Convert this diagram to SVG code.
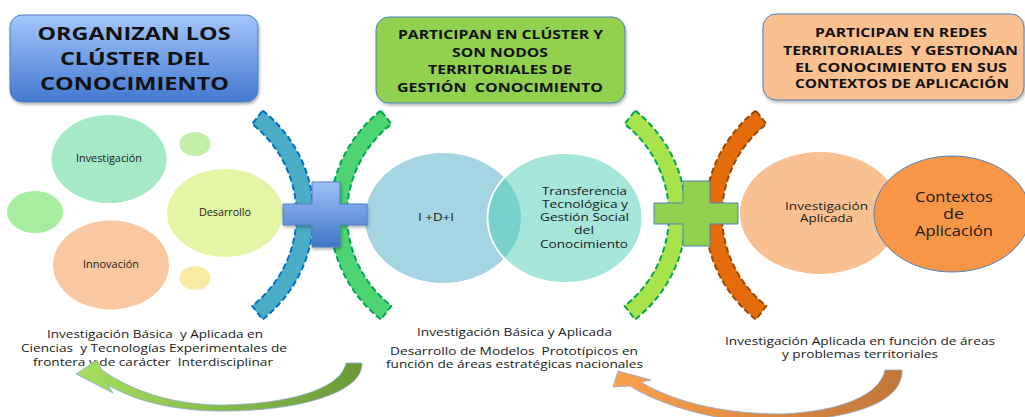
<svg xmlns="http://www.w3.org/2000/svg" width="1025" height="417" viewBox="0 0 1025 417">
<defs>
<style>
text{font-family:"Open Sans","Liberation Sans",sans-serif;fill:#1a1a1a;text-anchor:middle;white-space:pre}
.hb{font-weight:bold;fill:#111}
.b1{font-size:18px}
.b2{font-size:12px}
.b3{font-size:12.5px}
.s10{font-size:10px}
.s11{font-size:11px}
.s12{font-size:11px}
.s14{font-size:14px}
.box{stroke:#4f81bd;stroke-width:1;filter:url(#sh)}
.arcb{stroke-width:2;stroke-dasharray:6 3;stroke-linejoin:round}
</style>
<filter id="sh" x="-10%" y="-10%" width="120%" height="130%">
<feDropShadow dx="1" dy="2" stdDeviation="1.5" flood-color="#000" flood-opacity="0.3"/>
</filter>
<linearGradient id="gBlueBox" x1="0" y1="0" x2="0" y2="1">
<stop offset="0" stop-color="#a3c6fc"/>
<stop offset="1" stop-color="#4479cf"/>
</linearGradient>
<linearGradient id="gCross" x1="0" y1="0" x2="0" y2="1">
<stop offset="0" stop-color="#9fc1f8"/>
<stop offset="1" stop-color="#3e76c6"/>
</linearGradient>
<linearGradient id="gGreenArrow" x1="0" y1="0" x2="1" y2="0">
<stop offset="0" stop-color="#a6df5e"/>
<stop offset="1" stop-color="#6a9a36"/>
</linearGradient>
<linearGradient id="gOrangeArrow" x1="0" y1="0" x2="1" y2="0">
<stop offset="0" stop-color="#fba04c"/>
<stop offset="1" stop-color="#c0763a"/>
</linearGradient>
<clipPath id="clipIDI">
<ellipse cx="443" cy="218" rx="78" ry="65"/>
</clipPath>
</defs>
<rect width="1025" height="417" fill="#ffffff"/>

<g id="box-organizan">
<rect class="box" x="10" y="15" width="248" height="87" rx="12" fill="url(#gBlueBox)"/>
<text class="hb b1" x="134" y="40" textLength="193" lengthAdjust="spacingAndGlyphs">ORGANIZAN LOS</text>
<text class="hb b1" x="135" y="65" textLength="150" lengthAdjust="spacingAndGlyphs">CLÚSTER DEL</text>
<text class="hb b1" x="134.5" y="90" textLength="189" lengthAdjust="spacingAndGlyphs">CONOCIMIENTO</text>
</g>

<g id="box-participan-cluster">
<rect class="box" x="376" y="17" width="249" height="86" rx="13" fill="#92d050"/>
<text class="hb b2" x="500.5" y="39" textLength="205" lengthAdjust="spacingAndGlyphs">PARTICIPAN EN CLÚSTER Y</text>
<text class="hb b2" x="500" y="57" textLength="96" lengthAdjust="spacingAndGlyphs">SON NODOS</text>
<text class="hb b2" x="500" y="74" textLength="144" lengthAdjust="spacingAndGlyphs">TERRITORIALES DE</text>
<text class="hb b2" x="500" y="92" textLength="206" lengthAdjust="spacingAndGlyphs">GESTIÓN  CONOCIMIENTO</text>
</g>

<g id="box-participan-redes">
<rect class="box" x="763" y="14" width="261" height="86" rx="13" fill="#fac090"/>
<text class="hb b3" x="901" y="37" textLength="172" lengthAdjust="spacingAndGlyphs">PARTICIPAN EN REDES</text>
<text class="hb b3" x="900.5" y="55" textLength="235" lengthAdjust="spacingAndGlyphs">TERRITORIALES  Y GESTIONAN</text>
<text class="hb b3" x="901" y="72" textLength="212" lengthAdjust="spacingAndGlyphs">EL CONOCIMIENTO EN SUS</text>
<text class="hb b3" x="902" y="88" textLength="214" lengthAdjust="spacingAndGlyphs">CONTEXTOS DE APLICACIÓN</text>
</g>

<g id="bubble-small-top"><ellipse cx="195" cy="144" rx="15.5" ry="12" fill="#c3f0a8"/></g>
<g id="bubble-small-left"><ellipse cx="35" cy="212" rx="28" ry="21" fill="#a5ee9e"/></g>
<g id="bubble-small-bottom"><ellipse cx="195" cy="278" rx="15.5" ry="12" fill="#f8eaa3"/></g>

<g id="node-investigacion">
<ellipse cx="109" cy="159" rx="57.5" ry="44" fill="#a6e9c6"/>
<text class="s10" x="109" y="162" textLength="66" lengthAdjust="spacingAndGlyphs">Investigación</text>
</g>
<g id="node-desarrollo">
<ellipse cx="225" cy="213" rx="58" ry="44" fill="#e4f6a5"/>
<text class="s10" x="225" y="216" textLength="52" lengthAdjust="spacingAndGlyphs">Desarrollo</text>
</g>
<g id="node-innovacion">
<ellipse cx="111" cy="265" rx="58" ry="44.5" fill="#f9c8a0"/>
<text class="s10" x="111" y="268" textLength="56" lengthAdjust="spacingAndGlyphs">Innovación</text>
</g>

<g id="node-idi">
<ellipse cx="443" cy="218" rx="78" ry="65" fill="#a5d5e2"/>
<text class="s11" x="436" y="221" textLength="36" lengthAdjust="spacingAndGlyphs">I +D+I</text>
</g>
<g id="node-transferencia">
<ellipse cx="565" cy="218" rx="77.5" ry="65" fill="#a5e5da" stroke="#ffffff" stroke-width="2"/>
<ellipse cx="565" cy="218" rx="76.5" ry="64" fill="#78d1ca" clip-path="url(#clipIDI)"/>
<text class="s11" x="584.5" y="195" textLength="85" lengthAdjust="spacingAndGlyphs">Transferencia</text>
<text class="s11" x="585" y="208" textLength="86" lengthAdjust="spacingAndGlyphs">Tecnológica y</text>
<text class="s11" x="584.5" y="221" textLength="89" lengthAdjust="spacingAndGlyphs">Gestión Social</text>
<text class="s11" x="584" y="234" textLength="20" lengthAdjust="spacingAndGlyphs">del</text>
<text class="s11" x="584" y="248" textLength="88" lengthAdjust="spacingAndGlyphs">Conocimiento</text>
</g>

<g id="node-investigacion-aplicada">
<ellipse cx="820" cy="213" rx="80" ry="61" fill="#f9c092"/>
<text class="s10" x="826.5" y="210" textLength="83" lengthAdjust="spacingAndGlyphs">Investigación</text>
<text class="s10" x="826.5" y="222" textLength="53" lengthAdjust="spacingAndGlyphs">Aplicada</text>
</g>
<g id="node-contextos">
<ellipse cx="952" cy="214" rx="78" ry="58" fill="#f79646" stroke="#4f81bd" stroke-width="1"/>
<text class="s14" x="954" y="202" textLength="78" lengthAdjust="spacingAndGlyphs">Contextos</text>
<text class="s14" x="953.5" y="219" textLength="21" lengthAdjust="spacingAndGlyphs">de</text>
<text class="s14" x="954" y="236" textLength="78" lengthAdjust="spacingAndGlyphs">Aplicación</text>
</g>

<g id="arc-blue">
<path class="arcb" d="M 262.6 110.6 A 132.5 132.5 0 0 1 262.6 319.4 L 252.1 306 A 115.5 115.5 0 0 0 252.1 124 Z" fill="#4bacc6" stroke="#0070c0"/>
</g>
<g id="arc-green">
<path class="arcb" d="M 380.9 110.6 A 132.5 132.5 0 0 0 380.9 319.4 L 391.4 306 A 115.5 115.5 0 0 1 391.4 124 Z" fill="#4ed472" stroke="#00a651"/>
</g>
<g id="arc-lime">
<path class="arcb" d="M 635.1 110.6 A 132.5 132.5 0 0 1 635.1 319.4 L 624.6 306 A 115.5 115.5 0 0 0 624.6 124 Z" fill="#a9e34b" stroke="#00a651"/>
</g>
<g id="arc-orange">
<path class="arcb" d="M 755.9 110.6 A 132.5 132.5 0 0 0 755.9 319.4 L 766.4 306 A 115.5 115.5 0 0 1 766.4 124 Z" fill="#e46c0a" stroke="#984807"/>
</g>

<g id="cross-blue">
<path d="M 312 182 H 340 V 204 H 367 V 225 H 340 V 247 H 312 V 225 H 283 V 204 H 312 Z" fill="url(#gCross)" stroke="#4f7fc0" stroke-width="1" filter="url(#sh)"/>
</g>
<g id="cross-green">
<path d="M 683 181 H 710 V 203 H 738 V 224 H 710 V 246 H 683 V 224 H 654 V 203 H 683 Z" fill="#92d050" stroke="#4f81bd" stroke-width="1"/>
</g>

<g id="label-left">
<text class="s12" x="155" y="338" textLength="216" lengthAdjust="spacingAndGlyphs">Investigación Básica  y Aplicada en</text>
<text class="s12" x="154" y="352" textLength="266" lengthAdjust="spacingAndGlyphs">Ciencias  y Tecnologías Experimentales de</text>
<text class="s12" x="153" y="366" textLength="240" lengthAdjust="spacingAndGlyphs">frontera y de carácter  Interdisciplinar</text>
</g>
<g id="label-middle">
<text class="s12" x="514.5" y="336" textLength="195" lengthAdjust="spacingAndGlyphs">Investigación Básica y Aplicada</text>
<text class="s12" x="514" y="355" textLength="248" lengthAdjust="spacingAndGlyphs">Desarrollo de Modelos  Prototípicos en</text>
<text class="s12" x="514.5" y="368" textLength="257" lengthAdjust="spacingAndGlyphs">función de áreas estratégicas nacionales</text>
</g>
<g id="label-right">
<text class="s12" x="860" y="345" textLength="270" lengthAdjust="spacingAndGlyphs">Investigación Aplicada en función de áreas</text>
<text class="s12" x="860" y="358" textLength="156" lengthAdjust="spacingAndGlyphs">y problemas territoriales</text>
</g>

<g id="connectors">
<path d="M 346 363 L 362 363 C 363 395 290 412 217 411 C 165 410 130 398 108 385 L 113 393 L 76 374 L 97 360 L 102 370 C 130 390 170 404 217 405 C 285 405 341 390 346 363 Z" fill="url(#gGreenArrow)" stroke="#8fa8d0" stroke-width="0.8"/>
<path d="M 885 370 L 902 370 C 903 400 860 418 780 422 C 720 424 660 405 630 386 L 613 387 L 618 371 L 651 380 L 641 382 C 670 400 720 414 780 414 C 840 412 880 395 885 370 Z" fill="url(#gOrangeArrow)" stroke="#8fa8d0" stroke-width="0.8"/>
</g>
</svg>
